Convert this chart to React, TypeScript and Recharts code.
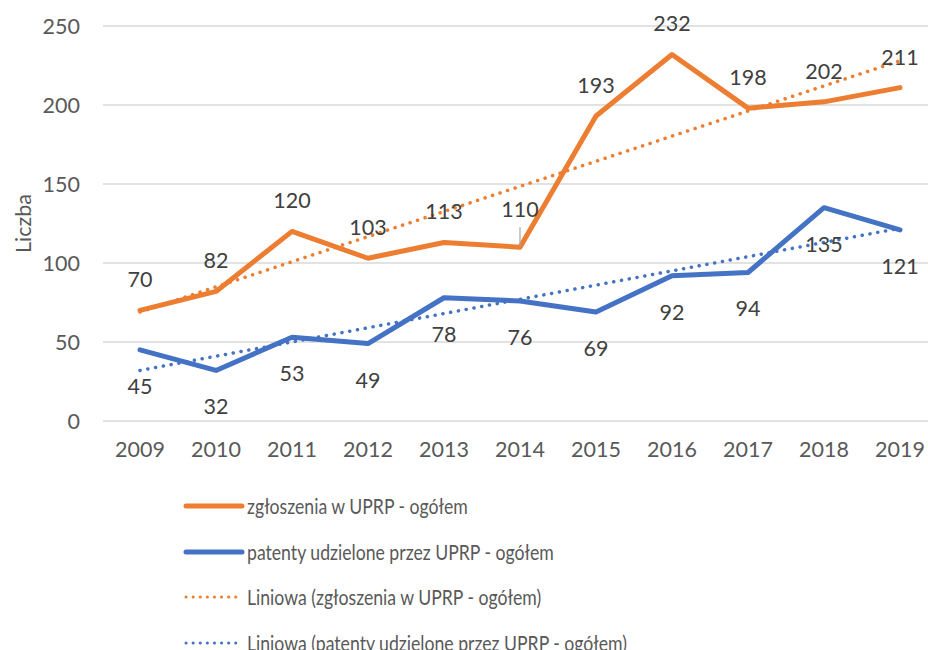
import { CartesianGrid, Line, LineChart, XAxis, YAxis } from "recharts";

const years = ["2009", "2010", "2011", "2012", "2013", "2014", "2015", "2016", "2017", "2018", "2019"];
const filings = [70, 82, 120, 103, 113, 110, 193, 232, 198, 202, 211];
const patents = [45, 32, 53, 49, 78, 76, 69, 92, 94, 135, 121];
// linear trend end points
const filingsTrend = [69, null, null, null, null, null, null, null, null, null, 228];
const patentsTrend = [32, null, null, null, null, null, null, null, null, null, 122];
const yTicks = [0, 50, 100, 150, 200, 250];

const ORANGE = "#ED7D31";
const BLUE = "#4472C4";
const FONT = "Lato, 'Open Sans', sans-serif";
const FS = 21.5;

const data = years.map((year, i) => ({
  year,
  filings: filings[i],
  patents: patents[i],
  filingsTrend: filingsTrend[i],
  patentsTrend: patentsTrend[i],
}));

const legendItems = [
  { label: "zgłoszenia w UPRP - ogółem", color: ORANGE, dotted: false },
  { label: "patenty udzielone przez UPRP - ogółem", color: BLUE, dotted: false },
  { label: "Liniowa (zgłoszenia w UPRP - ogółem)", color: ORANGE, dotted: true },
  { label: "Liniowa (patenty udzielone przez UPRP - ogółem)", color: BLUE, dotted: true },
];

function AboveLabel(p: any) {
  // 2014 label was pulled up in the original, with a leader line
  const lifted = p.index === 5;
  return (
    <g>
      {lifted && <line x1={p.x} x2={p.x} y1={p.y - 20} y2={p.y - 1} stroke="#A6A6A6" strokeWidth={1.2} />}
      <text x={p.x} y={p.y - (lifted ? 38 : 31)} textAnchor="middle" dominantBaseline="central" fill="#404040" fontSize={FS} fontFamily={FONT}>
        {p.value}
      </text>
    </g>
  );
}

function BelowLabel(p: any) {
  return (
    <text x={p.x} y={p.y + 36} textAnchor="middle" dominantBaseline="central" fill="#404040" fontSize={FS} fontFamily={FONT}>
      {p.value}
    </text>
  );
}

function YTitle(p: any) {
  const vb = p.viewBox;
  const cy = vb.y + vb.height / 2;
  return (
    <text x={23} y={cy} transform={`rotate(-90, 23, ${cy})`} textAnchor="middle" dominantBaseline="central" fill="#595959" fontSize={FS} fontFamily={FONT}>
      Liczba
    </text>
  );
}

export default function App() {
  const tick = { fill: "#595959", fontSize: FS, fontFamily: FONT };
  return (
    <div style={{ position: "fixed", left: 0, top: 0, width: 928, height: 650, overflow: "hidden", background: "#fff", fontFamily: FONT }}>
      <LineChart width={940} height={650} data={data} margin={{ top: 26, right: 3, left: 0, bottom: 189 }}>
        <CartesianGrid vertical={false} stroke="#D9D9D9" strokeWidth={1.3} />
        <XAxis dataKey="year" interval={0} axisLine={false} tickLine={false} tickSize={0} tickMargin={21} height={40} padding={{ left: 37, right: 37 }} tick={tick} />
        <YAxis domain={[0, 250]} ticks={yTicks} width={103} axisLine={false} tickLine={false} tickSize={0} tickMargin={23} tick={tick} label={<YTitle />} />
        <Line dataKey="filings" stroke={ORANGE} strokeWidth={5} strokeLinejoin="round" strokeLinecap="round" dot={false} activeDot={false} label={<AboveLabel />} isAnimationActive={false} />
        <Line dataKey="patents" stroke={BLUE} strokeWidth={5} strokeLinejoin="round" strokeLinecap="round" dot={false} activeDot={false} label={<BelowLabel />} isAnimationActive={false} />
        <Line dataKey="filingsTrend" connectNulls stroke={ORANGE} strokeWidth={3.5} strokeDasharray="0.1 7.8" strokeLinecap="round" dot={false} activeDot={false} isAnimationActive={false} />
        <Line dataKey="patentsTrend" connectNulls stroke={BLUE} strokeWidth={3.5} strokeDasharray="0.1 7.8" strokeLinecap="round" dot={false} activeDot={false} isAnimationActive={false} />
      </LineChart>
      {legendItems.map((item, i) => (
        <div key={item.label} style={{ position: "absolute", left: 183, top: 506 + i * 45.5 - 15, height: 30, display: "flex", alignItems: "center" }}>
          <svg width={62} height={10}>
            {item.dotted ? (
              <line x1={3} x2={59} y1={5} y2={5} stroke={item.color} strokeWidth={3} strokeDasharray="0.1 7" strokeLinecap="round" />
            ) : (
              <line x1={3} x2={59} y1={5} y2={5} stroke={item.color} strokeWidth={5} strokeLinecap="round" />
            )}
          </svg>
          <span style={{ color: "#595959", fontSize: FS, whiteSpace: "nowrap", transform: "scaleX(0.82)", transformOrigin: "left center", marginLeft: 2 }}>
            {item.label}
          </span>
        </div>
      ))}
    </div>
  );
}
